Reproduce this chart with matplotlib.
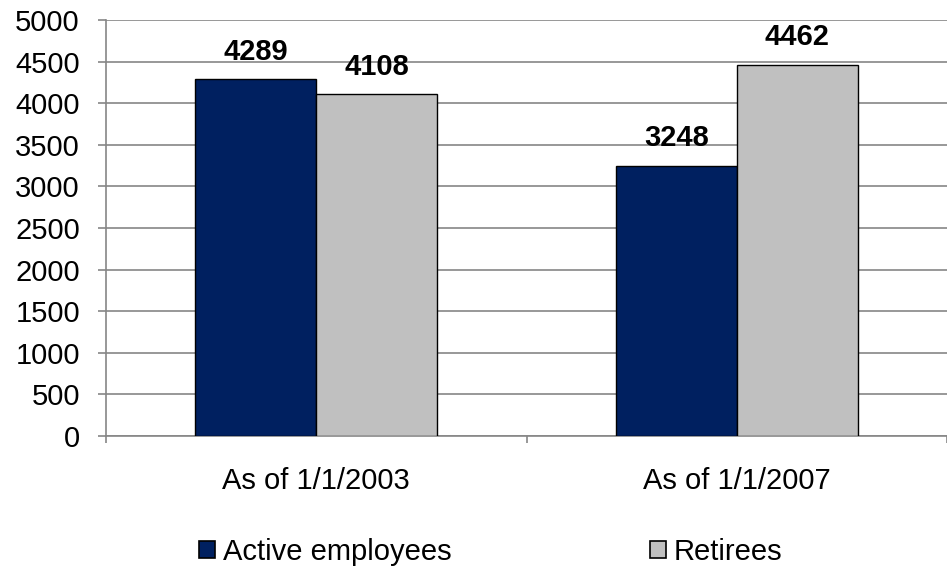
import numpy as np
import matplotlib.pyplot as plt
from matplotlib.patches import Patch

plt.rcParams.update({
    "font.family": "sans-serif",
    "font.sans-serif": ["Liberation Sans", "DejaVu Sans"],
})

categories = ['As of 1/1/2003', 'As of 1/1/2007']
active = [4289, 3248]
retirees = [4108, 4462]
series_names = ['Active employees', 'Retirees']
colors = ['#002060', '#C0C0C0']

fs = 21

fig = plt.figure(figsize=(9.47, 5.70), dpi=100)
ax = fig.add_axes([106 / 947, 1 - 436 / 570, 841 / 947, 416 / 570])

x = np.arange(len(categories))
bar_width = 0.288

b1 = ax.bar(x - bar_width / 2, active, width=bar_width, color=colors[0],
            edgecolor='black', linewidth=1.0, zorder=3)
b2 = ax.bar(x + bar_width / 2, retirees, width=bar_width, color=colors[1],
            edgecolor='black', linewidth=1.0, zorder=3)

for bars in (b1, b2):
    for rect in bars:
        h = rect.get_height()
        ax.annotate(str(int(h)), (rect.get_x() + rect.get_width() / 2, h),
                    xytext=(0, 14), textcoords='offset points',
                    ha='center', va='baseline', fontsize=fs, fontweight='bold')

ax.set_xlim(-0.5, 1.5)
ax.set_ylim(0, 5000)
ax.set_yticks(np.arange(0, 5001, 500))
ax.grid(visible=True, axis='y', color='#868686', linewidth=1.2, zorder=0)

# category boundaries carry the tick marks, labels sit at the centres
ax.set_xticks([-0.5, 0.5, 1.5])
ax.set_xticklabels([])
ax.set_xticks(x, minor=True)
ax.set_xticklabels(categories, minor=True)
ax.tick_params(axis='x', which='major', length=5, width=1.2, color='#868686', direction='out')
ax.tick_params(axis='x', which='minor', length=0, pad=22, labelsize=fs)
ax.tick_params(axis='y', length=5.8, width=1.2, color='#868686', pad=13, labelsize=fs)

for side in ('top', 'right'):
    ax.spines[side].set_visible(False)
for side in ('left', 'bottom'):
    ax.spines[side].set_color('#868686')
    ax.spines[side].set_linewidth(1.2)

handles = [Patch(facecolor=c, edgecolor='black', linewidth=1.2) for c in colors]
fig.legend(handles, series_names, loc='center', bbox_to_anchor=(0.5 + 17 / 947, 1 - 552 / 570),
           ncol=2, frameon=False, fontsize=fs, handlelength=0.55, handleheight=0.55,
           handletextpad=0.27, columnspacing=6.8, borderpad=0)

fig.savefig('out.png', dpi=100)
